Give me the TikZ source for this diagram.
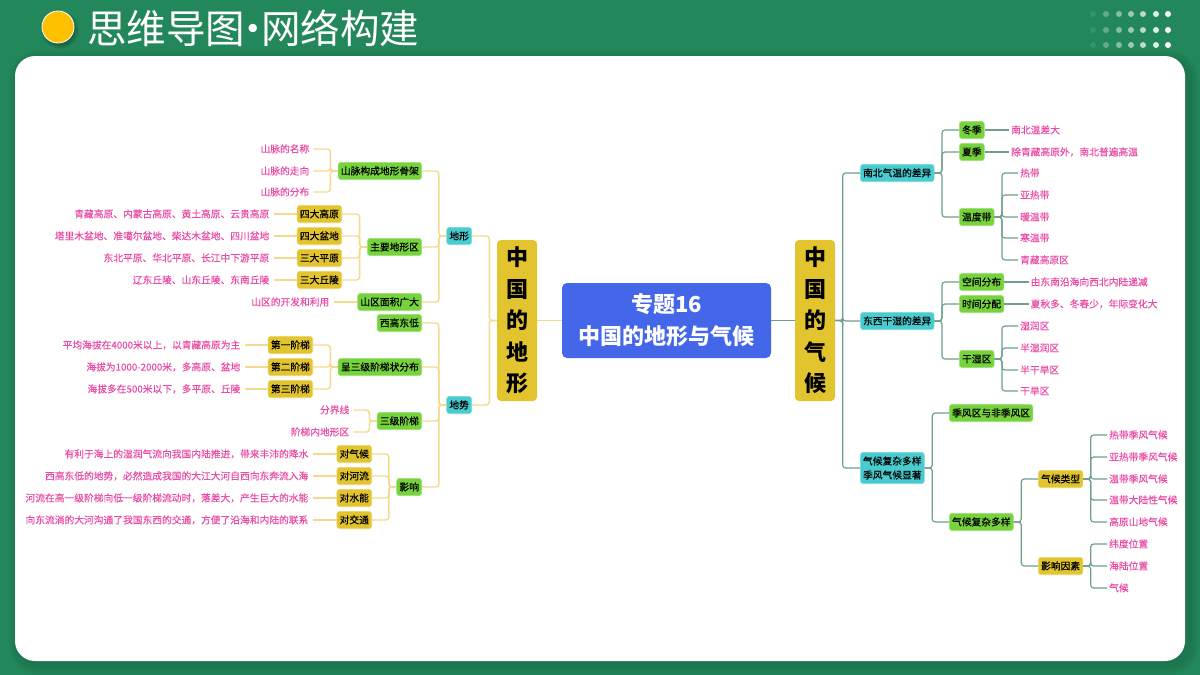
\documentclass[tikz,border=0pt]{standalone}
\usepackage{fontspec}
\setmainfont{Noto Sans CJK SC}
\newfontfamily\boxfont[FakeBold=0.5]{Noto Sans CJK SC}
\newfontfamily\leaffont[FakeBold=0.15]{Noto Sans CJK SC}
\newcommand{\dou}{\symbol{"FF0C}}

% Forks from a parent to its children
\newcommand{\forkleft}[3]{\foreach \c in {#3} \draw[#1] (#2.west) -- ++(-7.5,0) |- (\c.east);}
\newcommand{\forkright}[3]{\foreach \c in {#3} \draw[#1] (#2.east) -- ++(7.5,0) |- (\c.west);}

\begin{document}
\begin{tikzpicture}[x=1pt,y=-1pt]

	\def\pw{1200}
	\def\ph{675}
	\def\rootw{40}

	% Colours
	\definecolor{bgcolor}{HTML}{22875A}
	\definecolor{gboxcolor}{HTML}{76D33D}
	\definecolor{yboxcolor}{HTML}{E2C42E}
	\definecolor{tboxcolor}{HTML}{48CCCF}
	\definecolor{centercolor}{HTML}{4466E8}
	\definecolor{leafcolor}{HTML}{EA4BA6}
	\definecolor{ylinecolor}{HTML}{F5D98E}
	\definecolor{glinecolor}{HTML}{6F9F8E}
	\definecolor{suncolor}{HTML}{FFC000}

	% Styles
	\tikzstyle{box}=[rounded corners=3, inner xsep=2.8, inner ysep=0, minimum height=17.4, text height=8.6, text depth=1.4, font=\fontsize{9.75}{14}\boxfont, text=black, line width=0.6]
	\tikzstyle{gbox}=[box, fill=gboxcolor, draw=gboxcolor!70!white]
	\tikzstyle{ybox}=[box, fill=yboxcolor, draw=yboxcolor!70!white]
	\tikzstyle{tbox}=[box, fill=tboxcolor, draw=tboxcolor!70!white]
	\tikzstyle{rootbox}=[rounded corners=4, fill=yboxcolor, minimum width=\rootw, minimum height=161, inner sep=0, align=center, font=\fontsize{22}{31.5}\selectfont\bfseries, text=black]
	\tikzstyle{leaf}=[inner ysep=0, minimum height=14, text height=8.6, text depth=1.4, font=\fontsize{9.75}{14}\leaffont, text=leafcolor]
	\tikzstyle{lleaf}=[leaf, anchor=east, inner xsep=4]
	\tikzstyle{rleaf}=[leaf, anchor=west, inner xsep=2]
	\tikzstyle{yline}=[draw=ylinecolor, line width=1.4, rounded corners=3]
	\tikzstyle{gline}=[draw=glinecolor, line width=1.2, rounded corners=3]

	\useasboundingbox (0,0) rectangle (\pw,\ph);

	% Background and panel
	\fill[bgcolor] (0,0) rectangle (\pw,\ph);
	\foreach \s in {10,8,6,4,2}
		\fill[black, opacity=0.025, rounded corners=20+\s] (15+4-\s,56+4-\s) rectangle (1185+4+\s,661+4+\s);
	\fill[white, rounded corners=20] (15,56) rectangle (1185,661);

	% Title
	\foreach \s in {7,6,5,4,3,2,1,0}
		\fill[black, opacity=0.05] (60,30) circle (12+\s);
	\filldraw[fill=suncolor, draw=white, line width=0.8] (58,27) circle (16);
	\node[anchor=west, inner sep=0, text=white, font=\fontsize{39.5}{40}\selectfont] (title) at (87,28) {思维导图\kern-11.7pt·\kern-11.7pt网络构建};

	% Dots
	\foreach \y in {14,30,45}
		\foreach \x/\o in {1093/0.1,1106/0.3,1119/0.45,1131/0.55,1143/0.7,1156/0.85,1168/1}
			\fill[white, opacity=\o] (\x,\y) circle (3);

	% Centre and roots
	\node[rounded corners=5, fill=centercolor, minimum width=209, minimum height=75, inner sep=0, align=center, text=white, font=\fontsize{22}{32}\selectfont\bfseries] (center) at (666.5,320.5) {专题16\\中国的地形与气候};
	\node[rootbox] (terrain) at (517,320.5) {中\\国\\的\\地\\形};
	\node[rootbox] (climate) at (815,320.5) {中\\国\\的\\气\\候};

	% Left branch
	\begin{scope}[every node/.append style={anchor=east}]
		\node[tbox] (dixing) at (472,236) {地形};
		\node[tbox] (dishi) at (472,405) {地势};

		\node[gbox] (shanmai) at (422,171) {山脉构成地形骨架};
		\node[gbox] (zhuyao) at (422,247) {主要地形区};
		\node[gbox] (shanqu) at (422,302) {山区面积广大};
		\node[gbox] (xigao) at (422,323) {西高东低};
		\node[gbox] (jieti) at (422,367) {呈三级阶梯状分布};
		\node[gbox] (sanji) at (422,421) {三级阶梯};
		\node[gbox] (yingxiang) at (422,487) {影响};

		\node[ybox] (gaoyuan) at (342,214) {四大高原};
		\node[ybox] (pendi) at (342,236) {四大盆地};
		\node[ybox] (pingyuan) at (342,258) {三大平原};
		\node[ybox] (qiuling) at (342,280) {三大丘陵};
		\node[ybox] (jie1) at (313,345) {第一阶梯};
		\node[ybox] (jie2) at (313,367) {第二阶梯};
		\node[ybox] (jie3) at (313,389) {第三阶梯};
		\node[ybox] (duiqi) at (372,454) {对气候};
		\node[ybox] (duihe) at (372,476) {对河流};
		\node[ybox] (duishui) at (372,498) {对水能};
		\node[ybox] (duijiao) at (372,520) {对交通};
	\end{scope}

	\node[lleaf] (sm1) at (313.5,149) {山脉的名称};
	\node[lleaf] (sm2) at (313.5,171) {山脉的走向};
	\node[lleaf] (sm3) at (313.5,192) {山脉的分布};
	\node[lleaf] (gy) at (273.5,214) {青藏高原、内蒙古高原、黄土高原、云贵高原};
	\node[lleaf] (pd) at (273.5,236) {塔里木盆地、准噶尔盆地、柴达木盆地、四川盆地};
	\node[lleaf] (py) at (273.5,258) {东北平原、华北平原、长江中下游平原};
	\node[lleaf] (ql) at (273.5,280) {辽东丘陵、山东丘陵、东南丘陵};
	\node[lleaf] (sq) at (333.5,302) {山区的开发和利用};
	\node[lleaf] (j1) at (244.5,345) {平均海拔在4000米以上\dou 以青藏高原为主};
	\node[lleaf] (j2) at (244.5,367) {海拔为1000-2000米\dou 多高原、盆地};
	\node[lleaf] (j3) at (244.5,389) {海拔多在500米以下\dou 多平原、丘陵};
	\node[lleaf] (fj) at (353.5,410) {分界线};
	\node[lleaf] (jd) at (353.5,432) {阶梯内地形区};
	\node[lleaf] (y1) at (312.5,454) {有利于海上的湿润气流向我国内陆推进\dou 带来丰沛的降水};
	\node[lleaf] (y2) at (312.5,476) {西高东低的地势\dou 必然造成我国的大江大河自西向东奔流入海};
	\node[lleaf] (y3) at (312.5,498) {河流在高一级阶梯向低一级阶梯流动时\dou 落差大\dou 产生巨大的水能};
	\node[lleaf] (y4) at (312.5,520) {向东流淌的大河沟通了我国东西的交通\dou 方便了沿海和内陆的联系};

	% Right branch
	\begin{scope}[every node/.append style={anchor=west}]
		\node[tbox] (nanbei) at (860,173) {南北气温的差异};
		\node[tbox] (dongxi) at (860,321) {东西干湿的差异};
		\node[tbox, minimum height=31.4, text height=, text depth=, align=center] (fuza) at (860,468) {气候复杂多样\\季风气候显著};

		\node[gbox] (dong) at (959,130) {冬季};
		\node[gbox] (xia) at (959,152) {夏季};
		\node[gbox] (wendu) at (959,217) {温度带};
		\node[gbox] (kongjian) at (959,282) {空间分布};
		\node[gbox] (shijian) at (959,304) {时间分配};
		\node[gbox] (ganshi) at (959,359) {干湿区};
		\node[gbox] (jifeng) at (949,413) {季风区与非季风区};
		\node[gbox] (duoyang) at (949,522) {气候复杂多样};

		\node[ybox] (leixing) at (1038,479) {气候类型};
		\node[ybox] (yinsu) at (1038,566) {影响因素};
	\end{scope}

	\node[rleaf] (dl) at (1009,130) {南北温差大};
	\node[rleaf] (xl) at (1009,152) {除青藏高原外\dou 南北普遍高温};
	\node[rleaf] (w1) at (1018,173) {热带};
	\node[rleaf] (w2) at (1018,195) {亚热带};
	\node[rleaf] (w3) at (1018,217) {暖温带};
	\node[rleaf] (w4) at (1018,238) {寒温带};
	\node[rleaf] (w5) at (1018,260) {青藏高原区};
	\node[rleaf] (kj) at (1028.5,282) {由东南沿海向西北内陆递减};
	\node[rleaf] (sj) at (1028.5,304) {夏秋多、冬春少\dou 年际变化大};
	\node[rleaf] (g1) at (1018,326) {湿润区};
	\node[rleaf] (g2) at (1018,348) {半湿润区};
	\node[rleaf] (g3) at (1018,370) {半干旱区};
	\node[rleaf] (g4) at (1018,391) {干旱区};
	\node[rleaf] (t1) at (1107,435) {热带季风气候};
	\node[rleaf] (t2) at (1107,457) {亚热带季风气候};
	\node[rleaf] (t3) at (1107,479) {温带季风气候};
	\node[rleaf] (t4) at (1107,500) {温带大陆性气候};
	\node[rleaf] (t5) at (1107,522) {高原山地气候};
	\node[rleaf] (f1) at (1107,544) {纬度位置};
	\node[rleaf] (f2) at (1107,566) {海陆位置};
	\node[rleaf] (f3) at (1107,588) {气候};

	% Connectors, left
	\draw[yline, line width=1.8] (center) -- (terrain);
	\forkleft{yline}{terrain}{dixing,dishi}
	\forkleft{yline}{dixing}{shanmai,zhuyao,shanqu}
	\forkleft{yline}{dishi}{xigao,jieti,sanji,yingxiang}
	\forkleft{yline}{shanmai}{sm1,sm2,sm3}
	\forkleft{yline}{zhuyao}{gaoyuan,pendi,pingyuan,qiuling}
	\forkleft{yline}{jieti}{jie1,jie2,jie3}
	\forkleft{yline}{sanji}{fj,jd}
	\forkleft{yline}{yingxiang}{duiqi,duihe,duishui,duijiao}
	\foreach \a/\b in {gaoyuan/gy,pendi/pd,pingyuan/py,qiuling/ql,shanqu/sq,jie1/j1,jie2/j2,jie3/j3,duiqi/y1,duihe/y2,duishui/y3,duijiao/y4}
		\draw[yline] (\a.west) -- (\b.east);

	% Connectors, right
	\draw[gline, line width=1.8] (center) -- (climate);
	\forkright{gline}{climate}{nanbei,dongxi,fuza}
	\forkright{gline}{nanbei}{dong,xia,wendu}
	\forkright{gline}{dongxi}{kongjian,shijian,ganshi}
	\forkright{gline}{fuza}{jifeng,duoyang}
	\forkright{gline}{wendu}{w1,w2,w3,w4,w5}
	\forkright{gline}{ganshi}{g1,g2,g3,g4}
	\forkright{gline}{duoyang}{leixing,yinsu}
	\forkright{gline}{leixing}{t1,t2,t3,t4,t5}
	\forkright{gline}{yinsu}{f1,f2,f3}
	\foreach \a/\b in {dong/dl,xia/xl,kongjian/kj,shijian/sj}
		\draw[gline] (\a.east) -- (\b.west);

\end{tikzpicture}
\end{document}
